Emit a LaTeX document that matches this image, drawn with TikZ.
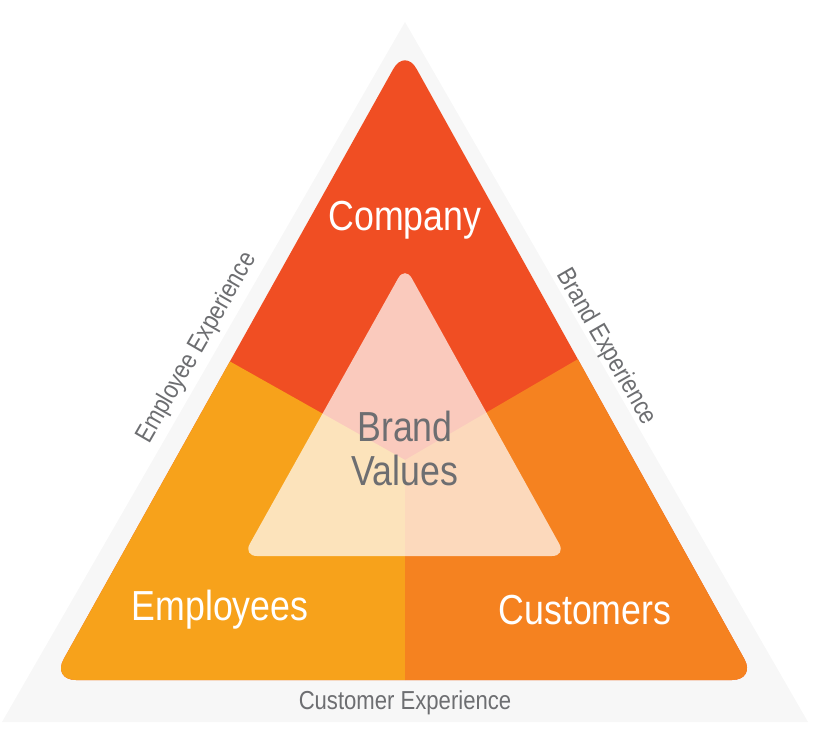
\documentclass[tikz,border=0pt]{standalone}
\usepackage{fontspec}
\setmainfont{Liberation Sans}[FakeStretch=0.85]
\usepackage{xcolor}
\usetikzlibrary{positioning}
\definecolor{company}{HTML}{F04E23}
\definecolor{employees}{HTML}{F7A21B}
\definecolor{customers}{HTML}{F58220}
\definecolor{labelgray}{HTML}{6D6E71}
\begin{document}
\begin{tikzpicture}[x=0.5pt,y=-0.5pt,
    part/.style={font=\fontsize{21}{24}\selectfont,text=white},
    side/.style={font=\fontsize{13}{15}\selectfont,text=labelgray}]
\useasboundingbox (0,0) rectangle (820,734);
% shadow band
\fill[gray!6] (405,22) -- (808,722) -- (2,722) -- cycle;
\fill[white] (405,150) -- (690,650) -- (120,650) -- cycle;
% main triangle
\begin{scope}
\clip[rounded corners=12] (405,48) -- (756,680) -- (52,680) -- cycle;
\fill[company] (0,0) rectangle (820,734);
\fill[employees] (0,357) -- (222,357) -- (405,460) -- (405,734) -- (0,734) -- cycle;
\fill[customers] (820,355) -- (585,355) -- (405,460) -- (405,734) -- (820,734) -- cycle;
\end{scope}
% inner triangle
\fill[white,opacity=0.7,rounded corners=7] (405,266) -- (566,556) -- (243,556) -- cycle;
\node[part] (company) at (405,220) {Company};
\node[part] (employees) at (220,610) {Employees};
\node[part] (customers) at (585,610) {Customers};
\node[part,text=labelgray,align=center] (brand) at (405,448)
  {Brand\\[-2pt]Values};
\node[side,rotate=60] (employeeexp) at (197,348) {Employee Experience};
\node[side,rotate=-60] (brandexp) at (606,347) {Brand Experience};
\node[side] (customerexp) at (405,703) {Customer Experience};
\end{tikzpicture}
\end{document}
